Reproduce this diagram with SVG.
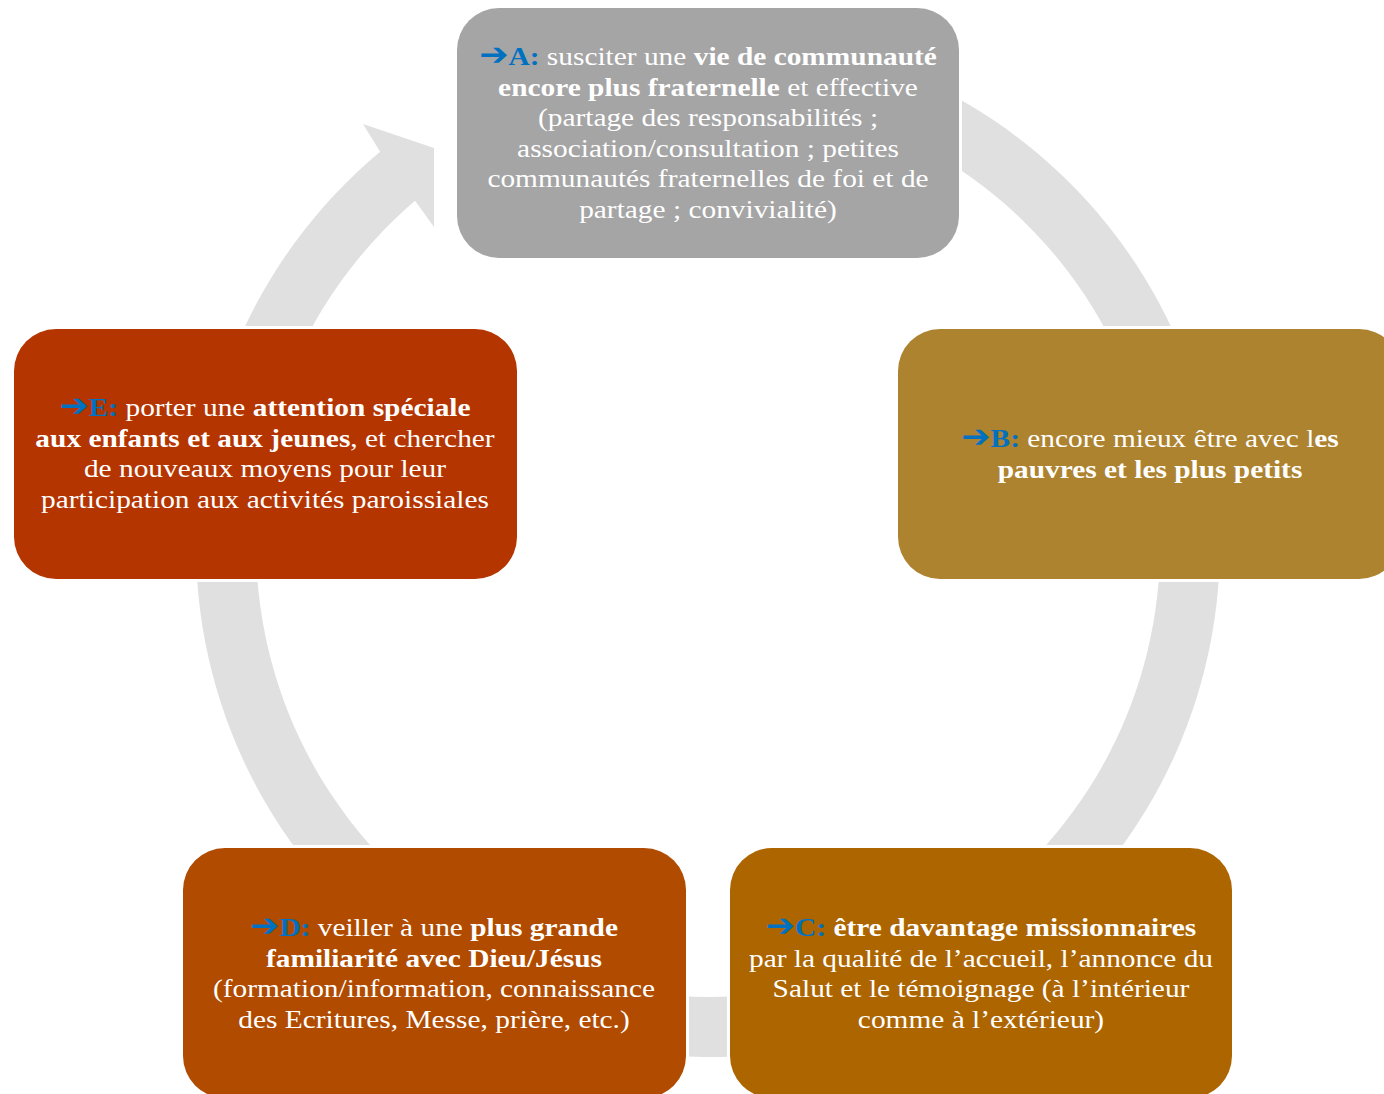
<svg xmlns="http://www.w3.org/2000/svg" width="1384" height="1094" viewBox="0 0 1384 1094">
<style>
.box{stroke:#ffffff;stroke-width:6;paint-order:stroke}
.t{font-family:"Liberation Serif","Times New Roman",serif;font-size:26px;fill:#ffffff;text-anchor:middle}
.b{font-weight:bold}
.k{fill:#0070C0;font-weight:bold}
.ar{font-family:"DejaVu Sans",sans-serif;fill:#0070C0;font-size:31px;font-weight:bold}
</style>
<rect width="1384" height="1094" fill="#ffffff"/>
<g id="connectors">
<path d="M 575.5 50.5 A 512 512 0 1 1 380.1 151.8 L 363 124 L 434 148 L 434 227 L 415.1 200.8 A 452 452 0 1 0 591.0 108.4 Z" fill="#E0E0E0"/>
</g>
<g id="nodeA">
<rect class="box" x="457" y="8" width="502" height="250" rx="42" fill="#A5A5A5"/>
<text class="t" transform="translate(708 65) scale(1.13 1)"><tspan x="0" class="ar">➔</tspan><tspan class="k">A:</tspan> susciter une <tspan class="b">vie de communauté</tspan></text>
<text class="t" transform="translate(708 95.5) scale(1.13 1)" x="0"><tspan class="b">encore plus fraternelle</tspan> et effective</text>
<text class="t" transform="translate(708 126) scale(1.13 1)" x="0">(partage des responsabilités ;</text>
<text class="t" transform="translate(708 156.5) scale(1.13 1)" x="0">association/consultation ; petites</text>
<text class="t" transform="translate(708 187) scale(1.13 1)" x="0">communautés fraternelles de foi et de</text>
<text class="t" transform="translate(708 217.5) scale(1.13 1)" x="0">partage ; convivialité)</text>
</g>
<g id="nodeB">
<rect class="box" x="898" y="329" width="503" height="250" rx="42" fill="#AD8330"/>
<text class="t" transform="translate(1150 447) scale(1.13 1)"><tspan x="0" class="ar">➔</tspan><tspan class="k">B:</tspan> encore mieux être avec l<tspan class="b">es</tspan></text>
<text class="t b" transform="translate(1150 477.5) scale(1.13 1)" x="0">pauvres et les plus petits</text>
</g>
<g id="nodeC">
<rect class="box" x="730" y="848" width="502" height="250" rx="42" fill="#AD6500"/>
<text class="t" transform="translate(981 936) scale(1.13 1)"><tspan x="0" class="ar">➔</tspan><tspan class="k">C:</tspan> <tspan class="b">être davantage missionnaires</tspan></text>
<text class="t" transform="translate(981 966.5) scale(1.13 1)" x="0">par la qualité de l’accueil, l’annonce du</text>
<text class="t" transform="translate(981 997) scale(1.13 1)" x="0">Salut et le témoignage (à l’intérieur</text>
<text class="t" transform="translate(981 1027.5) scale(1.13 1)" x="0">comme à l’extérieur)</text>
</g>
<g id="nodeD">
<rect class="box" x="183" y="848" width="503" height="250" rx="42" fill="#B04B00"/>
<text class="t" transform="translate(434 936) scale(1.13 1)"><tspan x="0" class="ar">➔</tspan><tspan class="k">D:</tspan> veiller à une <tspan class="b">plus grande</tspan></text>
<text class="t b" transform="translate(434 966.5) scale(1.13 1)" x="0">familiarité avec Dieu/Jésus</text>
<text class="t" transform="translate(434 997) scale(1.13 1)" x="0">(formation/information, connaissance</text>
<text class="t" transform="translate(434 1027.5) scale(1.13 1)" x="0">des Ecritures, Messe, prière, etc.)</text>
</g>
<g id="nodeE">
<rect class="box" x="14" y="329" width="503" height="250" rx="42" fill="#B43500"/>
<text class="t" transform="translate(265 416) scale(1.13 1)"><tspan x="0" class="ar">➔</tspan><tspan class="k">E:</tspan> porter une <tspan class="b">attention spéciale</tspan></text>
<text class="t" transform="translate(265 446.5) scale(1.13 1)" x="0"><tspan class="b">aux enfants et aux jeunes</tspan>, et chercher</text>
<text class="t" transform="translate(265 477) scale(1.13 1)" x="0">de nouveaux moyens pour leur</text>
<text class="t" transform="translate(265 507.5) scale(1.13 1)" x="0">participation aux activités paroissiales</text>
</g>
</svg>
